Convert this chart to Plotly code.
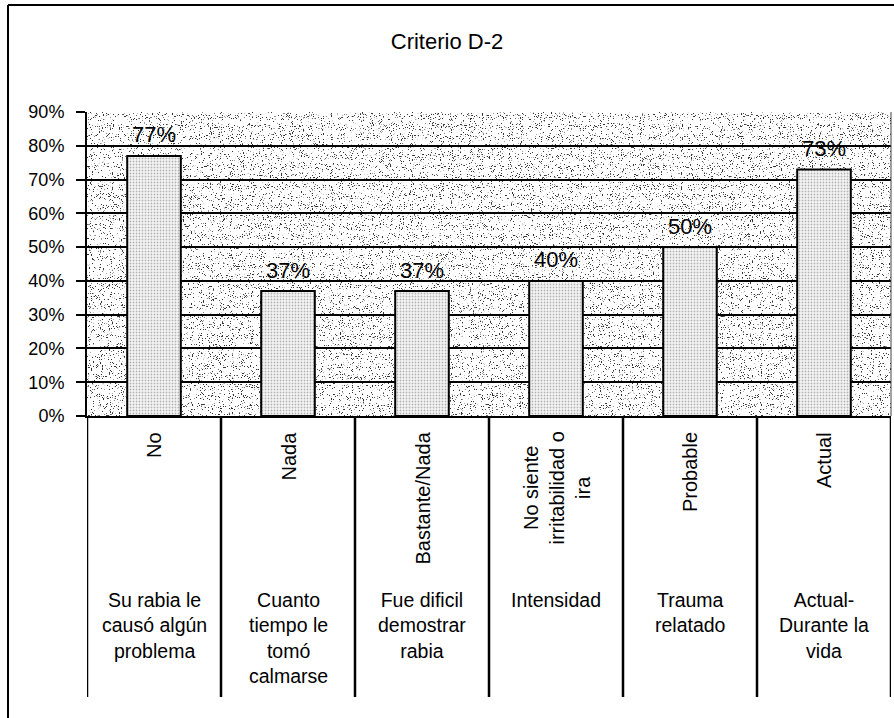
import base64
import plotly.graph_objects as go

# Survey items (bottom row), the response shown for each (rotated row) and its share
items = [
    "Su rabia le<br>causó algún<br>problema",
    "Cuanto<br>tiempo le<br>tomó<br>calmarse",
    "Fue dificil<br>demostrar<br>rabia",
    "Intensidad",
    "Trauma<br>relatado",
    "Actual-<br>Durante la<br>vida",
]
responses = [
    "No",
    "Nada",
    "Bastante/Nada",
    "No siente<br>irritabilidad o<br>ira",
    "Probable",
    "Actual",
]
percentages = [77, 37, 37, 40, 50, 73]

y_ticks = [0, 10, 20, 30, 40, 50, 60, 70, 80, 90]
y_tick_labels = [f"{v}%" for v in y_ticks]

FONT = "Arial, Liberation Sans, Helvetica, sans-serif"

# Page geometry (pixels)
W, H = 894, 718
L, R, T, B = 87, 3, 112, 302
PW, PH = W - L - R, H - T - B
BASE = H - B  # pixel row of the 0% line


def paper_x(px):
    return (px - L) / PW


def paper_y(py):
    return (BASE - py) / PH


# Stippled texture for the plotting area
stipple_svg = f"""<svg xmlns='http://www.w3.org/2000/svg' width='{PW}' height='{PH}' viewBox='0 0 {PW} {PH}'>
<defs><filter id='s' x='0' y='0' width='100%' height='100%' color-interpolation-filters='sRGB'>
<feTurbulence type='fractalNoise' baseFrequency='0.9' numOctaves='2' seed='11'/>
<feColorMatrix type='matrix' values='0 0 0 0 0.2  0 0 0 0 0.2  0 0 0 0 0.2  16 0 0 0 -10.2'/>
</filter></defs>
<rect width='100%' height='100%' fill='#ffffff'/>
<rect width='100%' height='100%' filter='url(#s)'/>
</svg>"""
stipple_uri = "data:image/svg+xml;base64," + base64.b64encode(stipple_svg.encode()).decode()

x_pos = list(range(len(items)))

fig = go.Figure()
fig.add_trace(
    go.Bar(
        x=x_pos,
        y=percentages,
        width=0.4,
        marker=dict(
            color="#f4f4f4",
            line=dict(color="black", width=2),
            pattern=dict(shape=".", fgcolor="#707070", bgcolor="#f6f6f6", size=3, solidity=0.3),
        ),
        hoverinfo="skip",
        showlegend=False,
    )
)

annotations = []
# value labels above the bars
for x, v in zip(x_pos, percentages):
    annotations.append(
        dict(
            x=x, y=v, xref="x", yref="y", text=f"{v}%", showarrow=False,
            yanchor="middle", yshift=21, font=dict(family=FONT, size=22, color="black"),
        )
    )
# rotated response labels
for x, r in zip(x_pos, responses):
    annotations.append(
        dict(
            x=x, y=paper_y(430), xref="x", yref="paper", text=r, showarrow=False,
            textangle=-90, xanchor="center", yanchor="top", align="center",
            font=dict(family=FONT, size=20, color="black"),
        )
    )
# item labels
for x, it in zip(x_pos, items):
    annotations.append(
        dict(
            x=x, y=paper_y(587), xref="x", yref="paper", text=it, showarrow=False,
            xanchor="center", yanchor="top", align="center",
            font=dict(family=FONT, size=19.5, color="black"),
        )
    )

shapes = []
table_bottom = paper_y(697)
# column separators below the axis
for k in range(len(items) + 1):
    shapes.append(
        dict(type="line", xref="x", yref="paper", x0=k - 0.5, x1=k - 0.5,
             y0=0, y1=table_bottom, line=dict(color="black", width=2.5))
    )
# right edge of the plotting area
shapes.append(
    dict(type="line", xref="paper", yref="paper", x0=1, x1=1, y0=0, y1=1,
         line=dict(color="#444", width=1))
)
# outer frame (left and top)
shapes.append(
    dict(type="line", xref="paper", yref="paper", x0=paper_x(8), x1=paper_x(8),
         y0=paper_y(5), y1=paper_y(720), line=dict(color="black", width=2))
)
shapes.append(
    dict(type="line", xref="paper", yref="paper", x0=paper_x(8), x1=paper_x(896),
         y0=paper_y(5), y1=paper_y(5), line=dict(color="black", width=2))
)

fig.update_layout(
    width=W,
    height=H,
    margin=dict(l=L, r=R, t=T, b=B, pad=0),
    paper_bgcolor="white",
    plot_bgcolor="rgba(0,0,0,0)",
    title=dict(
        text="Criterio D-2", x=0.5, xanchor="center", y=1 - 41 / H, yanchor="middle",
        font=dict(family=FONT, size=22, color="black"),
    ),
    xaxis=dict(
        range=[-0.5, len(items) - 0.5], showticklabels=False, ticks="", showgrid=False,
        zeroline=False, showline=True, linecolor="black", linewidth=2, fixedrange=True,
    ),
    yaxis=dict(
        range=[0, 90], tickmode="array", tickvals=y_ticks, ticktext=y_tick_labels,
        ticks="outside", ticklen=9, tickwidth=2, tickcolor="black", ticklabelstandoff=8,
        showgrid=True, gridcolor="black", gridwidth=2, zeroline=False,
        showline=True, linecolor="black", linewidth=2,
        tickfont=dict(family=FONT, size=18, color="black"), fixedrange=True,
    ),
    images=[
        dict(source=stipple_uri, xref="paper", yref="paper", x=0, y=1, sizex=1, sizey=1,
             xanchor="left", yanchor="top", sizing="stretch", layer="below")
    ],
    annotations=annotations,
    shapes=shapes,
    bargap=0.6,
)

fig.write_html("out.html")
